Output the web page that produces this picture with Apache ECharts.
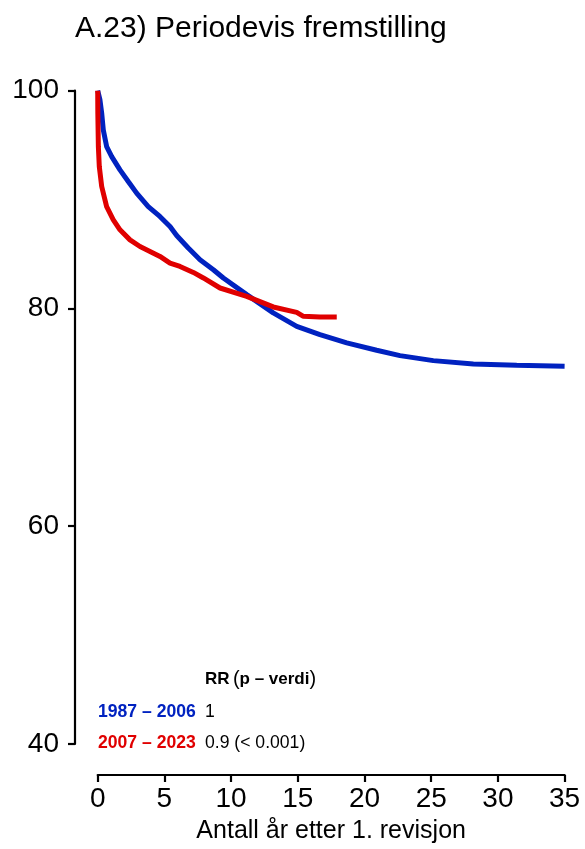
<!DOCTYPE html>
<html><head><meta charset="utf-8">
<script src="https://cdn.jsdelivr.net/npm/echarts@6/dist/echarts.min.js"></script>
<style>html,body{margin:0;padding:0;background:#fff;overflow:hidden}#c{width:585px;height:849px}</style>
</head><body><div id="c"></div>
<script>
const title = 'A.23) Periodevis fremstilling';
const xName = 'Antall år etter 1. revisjon';
const xTicks = [0, 5, 10, 15, 20, 25, 30, 35];
const yTicks = [40, 60, 80, 100];
const seriesNames = ['1987 – 2006', '2007 – 2023'];
const rrValues = ['1', '0.9 (< 0.001)'];
const rrHeader = ['RR', '(', 'p – verdi', ')'];

const blueX = [0, 0.17, 0.30, 0.42, 0.67, 1.05, 1.67, 2.29, 2.92, 3.79, 4.66, 5.42, 5.92, 6.79, 7.67, 8.67, 9.42, 11.17, 13.16, 14.92, 16.66, 18.67, 20.91, 22.66, 25.16, 28.16, 31.41, 35];
const blueY = [100, 99.15, 97.93, 96.4, 94.87, 93.95, 92.73, 91.66, 90.59, 89.36, 88.45, 87.53, 86.7, 85.55, 84.48, 83.56, 82.8, 81.27, 79.59, 78.36, 77.6, 76.84, 76.16, 75.67, 75.21, 74.91, 74.78, 74.69];
const redX = [0, 0.01, 0.05, 0.12, 0.30, 0.67, 1.17, 1.67, 2.42, 3.17, 3.92, 4.67, 5.42, 6.17, 7.17, 7.92, 9.17, 11.17, 13.16, 14.92, 15.42, 16.66, 17.92];
const redY = [100, 97.9, 94.86, 93.03, 91.2, 89.36, 88.14, 87.22, 86.3, 85.69, 85.24, 84.78, 84.17, 83.86, 83.31, 82.8, 81.88, 81.11, 80.14, 79.64, 79.28, 79.22, 79.22];

const colors = ['#0022C0', '#E00000'];
const font = 'Liberation Sans, Arial, Helvetica, sans-serif';
const chart = echarts.init(document.getElementById('c'));
const zip = (xs, ys) => xs.map((x, i) => [x, ys[i]]);

chart.setOption({
  animation: false,
  backgroundColor: '#fff',
  grid: { left: 97.7, width: 466.9, top: 90.7, height: 654.3, containLabel: false },
  xAxis: {
    type: 'value', min: xTicks[0], max: xTicks[xTicks.length - 1], interval: 5, offset: 31,
    name: xName, nameLocation: 'middle', nameGap: 44,
    nameTextStyle: { fontFamily: font, fontSize: 25, color: '#000' },
    axisLine: { show: true, onZero: false, lineStyle: { color: '#000', width: 2.2 } },
    axisTick: { show: true, length: 7, lineStyle: { color: '#000', width: 2.2 } },
    axisLabel: { fontFamily: font, fontSize: 28, color: '#000', margin: 10 },
    splitLine: { show: false }
  },
  yAxis: {
    type: 'value', min: yTicks[0], max: yTicks[yTicks.length - 1], interval: 20, offset: 22.7,
    axisLine: { show: true, onZero: false, lineStyle: { color: '#000', width: 2.2 } },
    axisTick: { show: true, length: 7, lineStyle: { color: '#000', width: 2.2 } },
    axisLabel: { fontFamily: font, fontSize: 28, color: '#000', margin: 16 },
    splitLine: { show: false }
  },
  title: {
    text: title, left: 70, top: 9,
    textStyle: { fontFamily: font, fontSize: 30, fontWeight: 'normal', color: '#000' }
  },
  series: [
    { name: seriesNames[0], type: 'line', data: zip(blueX, blueY), showSymbol: false,
      lineStyle: { color: colors[0], width: 5 }, itemStyle: { color: colors[0] }, z: 2 },
    { name: seriesNames[1], type: 'line', data: zip(redX, redY), showSymbol: false,
      lineStyle: { color: colors[1], width: 5 }, itemStyle: { color: colors[1] }, z: 3 }
  ],
  graphic: [
    { type: 'text', x: 205, y: 679, style: {
        text: '{b|' + rrHeader[0] + '} {n|' + rrHeader[1] + '}{b|' + rrHeader[2] + '}{n|' + rrHeader[3] + '}',
        verticalAlign: 'middle',
        rich: {
          b: { font: 'bold 17px ' + font, fill: '#000', color: '#000' },
          n: { font: '20px ' + font, fill: '#000', color: '#000' }
        } } },
    { type: 'text', x: 98, y: 712, style: { text: seriesNames[0], font: 'bold 17.6px ' + font, fill: colors[0], verticalAlign: 'middle' } },
    { type: 'text', x: 205, y: 712, style: { text: rrValues[0], font: '17.6px ' + font, fill: '#000', verticalAlign: 'middle' } },
    { type: 'text', x: 98, y: 743.5, style: { text: seriesNames[1], font: 'bold 17.6px ' + font, fill: colors[1], verticalAlign: 'middle' } },
    { type: 'text', x: 205, y: 743.5, style: { text: rrValues[1], font: '17.6px ' + font, fill: '#000', verticalAlign: 'middle' } }
  ]
});
</script></body></html>
